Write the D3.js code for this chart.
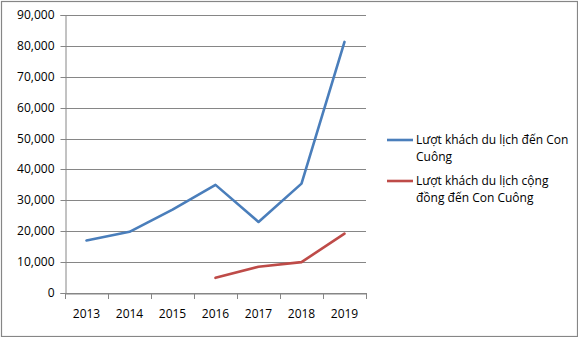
<!DOCTYPE html>
<html><head><meta charset="utf-8">
<script src="https://cdn.jsdelivr.net/npm/d3@7"></script>
<style>body{margin:0;background:#fff}svg{display:block}text{font-family:"Open Sans",sans-serif;fill:#000}</style>
</head><body>
<script>
const years = ["2013","2014","2015","2016","2017","2018","2019"];
const totalVisitors = [17000, 19800, 27000, 35000, 23000, 35400, 81300];
const communityVisitors = [null, null, null, 4900, 8500, 10000, 19200];
const yTicks = [0,10000,20000,30000,40000,50000,60000,70000,80000,90000];
const seriesNames = [["Lượt khách du lịch đến Con","Cuông"],["Lượt khách du lịch cộng","đồng đến Con Cuông"]];
const colors = ["#4A7EBB","#BE4B48"];

(function(){
const W=578,H=337;
const svg=d3.select("body").append("svg").attr("width",W).attr("height",H);
svg.append("rect").attr("x",1.5).attr("y",1.5).attr("width",576).attr("height",335)
  .attr("fill","#fff").attr("stroke","#868686").attr("stroke-width",1.2);

const pL=65,pR=366,pT=15,pB=293;
const x=d3.scaleBand().domain(years).range([pL,pR]);
const y=d3.scaleLinear().domain([0,90000]).range([pB,pT]);

svg.append("g").selectAll("line").data(yTicks).join("line")
  .attr("x1",pL).attr("x2",pR)
  .attr("y1",d=>Math.round(y(d))+0.5).attr("y2",d=>Math.round(y(d))+0.5)
  .attr("stroke","#868686").attr("stroke-width",1);

const yAx=svg.append("g").attr("transform",`translate(${pL+0.5},0)`)
  .call(d3.axisLeft(y).tickValues(yTicks).tickFormat(d3.format(",")).tickSize(5).tickPadding(6));
yAx.select(".domain").attr("stroke","#868686");
yAx.selectAll(".tick line").attr("stroke","#868686");
yAx.selectAll(".tick").attr("transform",d=>`translate(0,${Math.round(y(d))+0.5})`);
yAx.selectAll("text").style("font-size","12px").style("font-family","Open Sans");

const xAx=svg.append("g").attr("transform",`translate(0,${pB+0.5})`)
  .call(d3.axisBottom(x).tickSize(0).tickPadding(16));
xAx.select(".domain").attr("stroke","#868686");
xAx.selectAll("text").style("font-size","12px").style("font-family","Open Sans");
const bounds=[...years.map(d=>x(d)), pR];
svg.append("g").selectAll("line").data(bounds).join("line")
  .attr("x1",d=>Math.round(d)+0.5).attr("x2",d=>Math.round(d)+0.5)
  .attr("y1",pB).attr("y2",pB+6).attr("stroke","#868686");

const line=d3.line().defined(d=>d.v!=null)
  .x(d=>x(d.year)+x.bandwidth()/2).y(d=>y(d.v));
[totalVisitors,communityVisitors].forEach((s,i)=>{
  svg.append("path").datum(years.map((yr,j)=>({year:yr,v:s[j]})))
    .attr("d",line).attr("fill","none").attr("stroke",colors[i])
    .attr("stroke-width",2.6).attr("stroke-linejoin","round").attr("stroke-linecap","round");
});

const leg=svg.append("g");
const legY=[140,181];
seriesNames.forEach((lines,i)=>{
  leg.append("line").attr("x1",387).attr("x2",413).attr("y1",legY[i]).attr("y2",legY[i])
    .attr("stroke",colors[i]).attr("stroke-width",2.6);
  lines.forEach((t,k)=>{
    leg.append("text").attr("x",416).attr("y",legY[i]+4+k*16.5)
      .style("font-size","12px").text(t);
  });
});
})();
</script>
</body></html>
